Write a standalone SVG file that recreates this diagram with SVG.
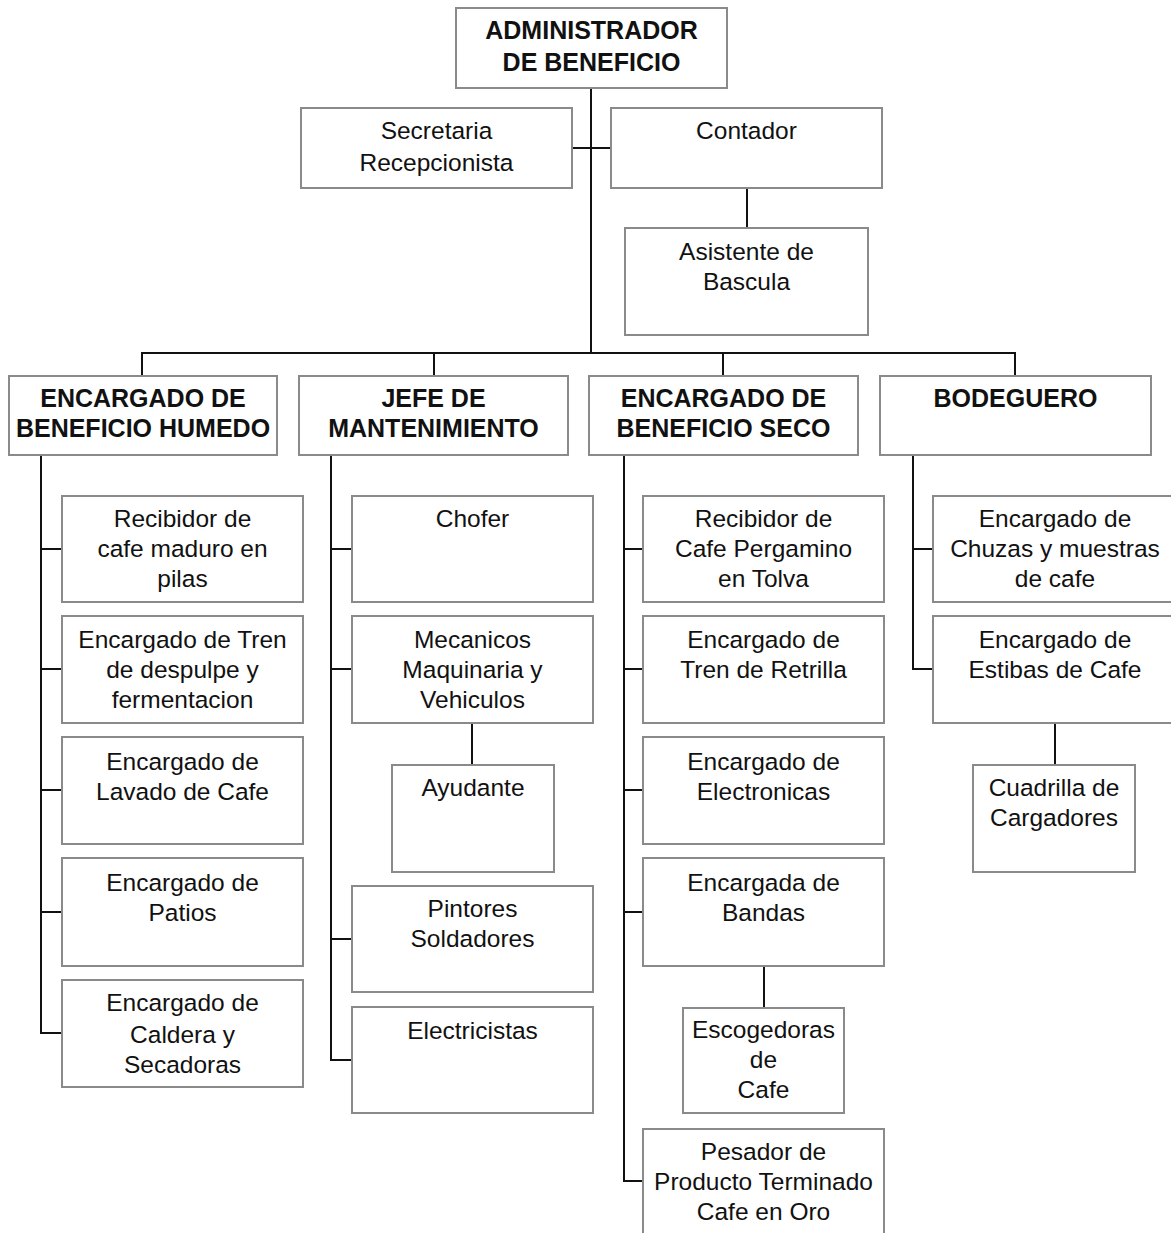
<svg xmlns="http://www.w3.org/2000/svg" width="1171" height="1233" viewBox="0 0 1171 1233">
  <style>
    .box { fill: #ffffff; stroke: #8a8a8a; stroke-width: 2; }
    .lnk { fill: none; stroke: #111111; stroke-width: 2; }
    text { font-family: "Liberation Sans", Arial, sans-serif; fill: #111111; text-anchor: middle; }
    .t { font-size: 24.5px; }
    .h { font-size: 25px; font-weight: bold; }
  </style>
  <rect width="1171" height="1233" fill="#ffffff"/>

  <g id="connectors">
    <!-- top trunk and staff -->
    <path class="lnk" d="M591 88 V353 M572 148 H611 M747 188 V228"/>
    <!-- bus to department heads -->
    <path class="lnk" d="M142 376 V353 H1015 V376 M434 353 V376 M723 353 V376"/>
    <!-- beneficio humedo -->
    <path class="lnk" d="M41 455 V1033 H62 M41 549 H62 M41 669 H62 M41 790 H62 M41 912 H62"/>
    <!-- mantenimiento -->
    <path class="lnk" d="M331 455 V1060 H352 M331 549 H352 M331 669 H352 M331 939 H352 M472 723 V765"/>
    <!-- beneficio seco -->
    <path class="lnk" d="M624 455 V1181 H643 M624 549 H643 M624 669 H643 M624 790 H643 M624 912 H643 M764 966 V1008"/>
    <!-- bodeguero -->
    <path class="lnk" d="M913 455 V669 H933 M913 549 H933 M1055 723 V765"/>
  </g>

  <g id="administrador">
    <rect class="box" x="456" y="8" width="271" height="80"/>
    <text class="h" x="591.5" y="39">ADMINISTRADOR</text>
    <text class="h" x="591.5" y="71">DE BENEFICIO</text>
  </g>
  <g id="secretaria">
    <rect class="box" x="301" y="108" width="271" height="80"/>
    <text class="t" x="436.5" y="139">Secretaria</text>
    <text class="t" x="436.5" y="171">Recepcionista</text>
  </g>
  <g id="contador">
    <rect class="box" x="611" y="108" width="271" height="80"/>
    <text class="t" x="746.5" y="139">Contador</text>
  </g>
  <g id="asistente">
    <rect class="box" x="625" y="228" width="243" height="107"/>
    <text class="t" x="746.5" y="260">Asistente de</text>
    <text class="t" x="746.5" y="290">Bascula</text>
  </g>

  <g id="enc-humedo">
    <rect class="box" x="9" y="376" width="268" height="79"/>
    <text class="h" x="143" y="407">ENCARGADO DE</text>
    <text class="h" x="143" y="437">BENEFICIO HUMEDO</text>
  </g>
  <g id="jefe-mant">
    <rect class="box" x="299" y="376" width="269" height="79"/>
    <text class="h" x="433.5" y="407">JEFE DE</text>
    <text class="h" x="433.5" y="437">MANTENIMIENTO</text>
  </g>
  <g id="enc-seco">
    <rect class="box" x="589" y="376" width="269" height="79"/>
    <text class="h" x="723.5" y="407">ENCARGADO DE</text>
    <text class="h" x="723.5" y="437">BENEFICIO SECO</text>
  </g>
  <g id="bodeguero">
    <rect class="box" x="880" y="376" width="271" height="79"/>
    <text class="h" x="1015.5" y="407">BODEGUERO</text>
  </g>

  <!-- beneficio humedo staff -->
  <g id="recibidor-maduro">
    <rect class="box" x="62" y="496" width="241" height="106"/>
    <text class="t" x="182.5" y="527">Recibidor de</text>
    <text class="t" x="182.5" y="557">cafe maduro en</text>
    <text class="t" x="182.5" y="587">pilas</text>
  </g>
  <g id="tren-despulpe">
    <rect class="box" x="62" y="616" width="241" height="107"/>
    <text class="t" x="182.5" y="648">Encargado de Tren</text>
    <text class="t" x="182.5" y="678">de despulpe y</text>
    <text class="t" x="182.5" y="708">fermentacion</text>
  </g>
  <g id="lavado">
    <rect class="box" x="62" y="737" width="241" height="107"/>
    <text class="t" x="182.5" y="770">Encargado de</text>
    <text class="t" x="182.5" y="800">Lavado de Cafe</text>
  </g>
  <g id="patios">
    <rect class="box" x="62" y="858" width="241" height="108"/>
    <text class="t" x="182.5" y="891">Encargado de</text>
    <text class="t" x="182.5" y="921">Patios</text>
  </g>
  <g id="caldera">
    <rect class="box" x="62" y="980" width="241" height="107"/>
    <text class="t" x="182.5" y="1011">Encargado de</text>
    <text class="t" x="182.5" y="1043">Caldera y</text>
    <text class="t" x="182.5" y="1073">Secadoras</text>
  </g>

  <!-- mantenimiento staff -->
  <g id="chofer">
    <rect class="box" x="352" y="496" width="241" height="106"/>
    <text class="t" x="472.5" y="527">Chofer</text>
  </g>
  <g id="mecanicos">
    <rect class="box" x="352" y="616" width="241" height="107"/>
    <text class="t" x="472.5" y="648">Mecanicos</text>
    <text class="t" x="472.5" y="678">Maquinaria y</text>
    <text class="t" x="472.5" y="708">Vehiculos</text>
  </g>
  <g id="ayudante">
    <rect class="box" x="392" y="765" width="162" height="107"/>
    <text class="t" x="473" y="796">Ayudante</text>
  </g>
  <g id="pintores">
    <rect class="box" x="352" y="886" width="241" height="106"/>
    <text class="t" x="472.5" y="917">Pintores</text>
    <text class="t" x="472.5" y="947">Soldadores</text>
  </g>
  <g id="electricistas">
    <rect class="box" x="352" y="1007" width="241" height="106"/>
    <text class="t" x="472.5" y="1039">Electricistas</text>
  </g>

  <!-- beneficio seco staff -->
  <g id="recibidor-pergamino">
    <rect class="box" x="643" y="496" width="241" height="106"/>
    <text class="t" x="763.5" y="527">Recibidor de</text>
    <text class="t" x="763.5" y="557">Cafe Pergamino</text>
    <text class="t" x="763.5" y="587">en Tolva</text>
  </g>
  <g id="retrilla">
    <rect class="box" x="643" y="616" width="241" height="107"/>
    <text class="t" x="763.5" y="648">Encargado de</text>
    <text class="t" x="763.5" y="678">Tren de Retrilla</text>
  </g>
  <g id="electronicas">
    <rect class="box" x="643" y="737" width="241" height="107"/>
    <text class="t" x="763.5" y="770">Encargado de</text>
    <text class="t" x="763.5" y="800">Electronicas</text>
  </g>
  <g id="bandas">
    <rect class="box" x="643" y="858" width="241" height="108"/>
    <text class="t" x="763.5" y="891">Encargada de</text>
    <text class="t" x="763.5" y="921">Bandas</text>
  </g>
  <g id="escogedoras">
    <rect class="box" x="683" y="1008" width="161" height="105"/>
    <text class="t" x="763.5" y="1038">Escogedoras</text>
    <text class="t" x="763.5" y="1068">de</text>
    <text class="t" x="763.5" y="1098">Cafe</text>
  </g>
  <g id="pesador">
    <rect class="box" x="643" y="1129" width="241" height="110"/>
    <text class="t" x="763.5" y="1160">Pesador de</text>
    <text class="t" x="763.5" y="1190">Producto Terminado</text>
    <text class="t" x="763.5" y="1220">Cafe en Oro</text>
  </g>

  <!-- bodeguero staff -->
  <g id="chuzas">
    <rect class="box" x="933" y="496" width="244" height="106"/>
    <text class="t" x="1055" y="527">Encargado de</text>
    <text class="t" x="1055" y="557">Chuzas y muestras</text>
    <text class="t" x="1055" y="587">de cafe</text>
  </g>
  <g id="estibas">
    <rect class="box" x="933" y="616" width="244" height="107"/>
    <text class="t" x="1055" y="648">Encargado de</text>
    <text class="t" x="1055" y="678">Estibas de Cafe</text>
  </g>
  <g id="cuadrilla">
    <rect class="box" x="973" y="765" width="162" height="107"/>
    <text class="t" x="1054" y="796">Cuadrilla de</text>
    <text class="t" x="1054" y="826">Cargadores</text>
  </g>
</svg>
